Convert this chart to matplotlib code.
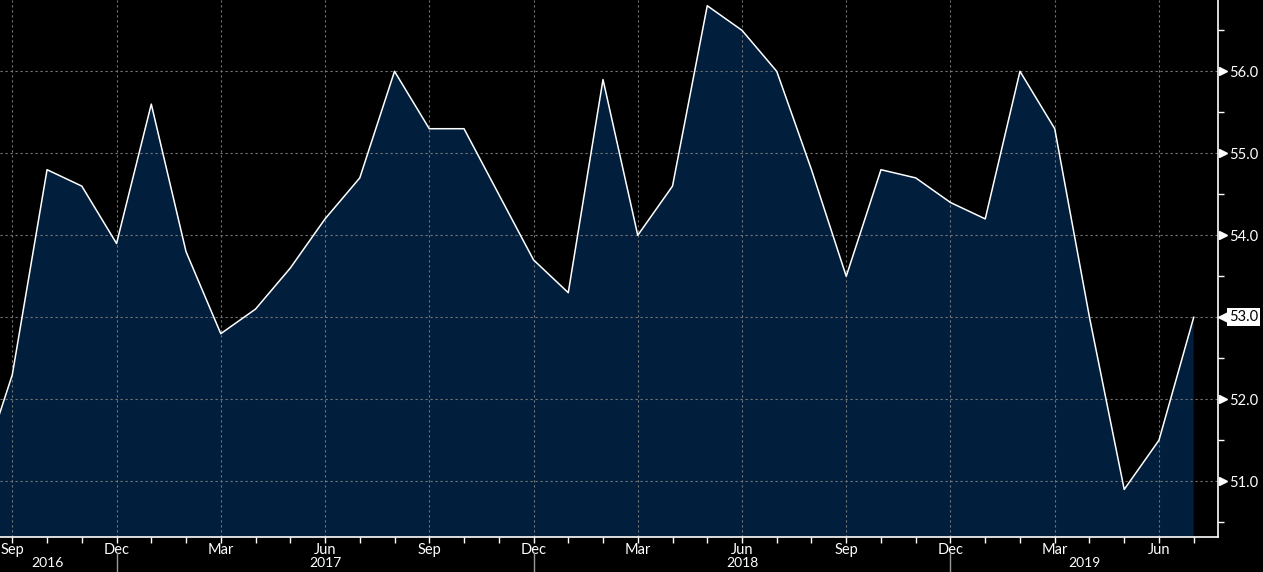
import matplotlib
matplotlib.use("Agg")
import matplotlib.pyplot as plt
import matplotlib.transforms as mtransforms
import numpy as np

plt.rcParams["font.family"] = ["Lato", "DejaVu Sans"]

# ---- data (monthly, Aug 2016 .. Jul 2019) ----
first_year, first_month = 2016, 8
values = [51.0, 52.3, 54.8, 54.6, 53.9,
          55.6, 53.8, 52.8, 53.1, 53.6, 54.2, 54.7, 56.0, 55.3, 55.3, 54.5, 53.7,
          53.3, 55.9, 54.0, 54.6, 56.8, 56.5, 56.0, 54.8, 53.5, 54.8, 54.7, 54.4,
          54.2, 56.0, 55.3, 53.0, 50.9, 51.5, 53.0]
month_labels = {9: "Sep", 12: "Dec", 3: "Mar", 6: "Jun"}
year_labels = ["2016", "2017", "2018", "2019"]
y_ticks = [51.0, 52.0, 53.0, 54.0, 55.0, 56.0]

n = len(values)
x = np.arange(n)  # month index, 0 = Aug 2016
months = [((first_month - 1 + i) % 12) + 1 for i in range(n + 1)]

FILL = "#011e3c"
GRID = "#767676"

fig = plt.figure(figsize=(12.63, 5.72), dpi=100, facecolor="black")
ax = fig.add_axes([0.0, 0.0612, 0.9644, 0.9388])
ax.set_facecolor("black")

ymin, ymax = 50.32, 56.87
ax.fill_between(x, values, ymin - 5, color=FILL, lw=0, zorder=1)
ax.plot(x, values, color="white", lw=1.1, zorder=4)

# ticks
all_x = np.arange(n + 1)
major = [(xx, month_labels[m]) for xx, m in zip(all_x, months) if m in month_labels]
ax.set_xticks([m[0] for m in major])
ax.set_xticklabels([m[1] for m in major])
ax.set_xticks(all_x, minor=True)
ax.tick_params(axis="x", which="both", direction="out", length=4, width=1,
               color="white", labelcolor="white", labelsize=10.5, pad=0.6)

ax.yaxis.tick_right()
ax.set_yticks(y_ticks)
ax.set_yticklabels([f"{v:.1f}" for v in y_ticks])
ax.set_yticks(np.arange(50.5, 57.0, 1.0), minor=True)
ax.tick_params(axis="y", which="major", length=0, pad=8, labelcolor="white", labelsize=10.5)
ax.tick_params(axis="y", which="minor", direction="out", length=4, width=1, color="white")
ax.tick_params(axis="y", which="both", left=False, labelleft=False)

# limits (after ticks, so they are not expanded)
x_left, x_right = 1 - 0.354, n - 1 + 0.70
ax.set_xlim(x_left, x_right)
ax.set_ylim(ymin, ymax)

# triangles for major y ticks
ytr = ax.get_yaxis_transform()
tri_y = [v for v in y_ticks if abs(v - values[-1]) > 1e-9]
ax.plot([1.0] * len(tri_y), tri_y, ls="none", marker=">", ms=6, color="white",
        transform=ytr + mtransforms.ScaledTranslation(4.5 / 100, 0, fig.dpi_scale_trans),
        clip_on=False, zorder=6)

# last-value tag
ax.plot([1.0], [values[-1]], ls="none", marker="<", ms=8, color="white",
        transform=ytr + mtransforms.ScaledTranslation(5.5 / 100, 0, fig.dpi_scale_trans),
        clip_on=False, zorder=7)
ax.annotate(f"{values[-1]:.1f}", xy=(1.0, values[-1]), xycoords=ytr,
            xytext=(8.0, 0), textcoords="offset points", ha="left", va="center",
            color="black", fontsize=10.5, zorder=8, annotation_clip=False,
            bbox=dict(boxstyle="square,pad=0.15", facecolor="white", edgecolor="none"))

# grid (drawn above the fill)
for v in y_ticks:
    ax.axhline(v, color=GRID, lw=0.8, ls=(0, (2, 2.5)), zorder=3)
for m in major:
    ax.axvline(m[0], color=GRID, lw=0.8, ls=(0, (2, 2.5)), zorder=3)

# spines
for s in ["top", "left"]:
    ax.spines[s].set_visible(False)
for s in ["bottom", "right"]:
    ax.spines[s].set_color("white")
    ax.spines[s].set_linewidth(1.2)
    ax.spines[s].set_zorder(5)

# year labels and separators
xtr = ax.get_xaxis_transform()
dec_x = [xx for xx, m in zip(all_x, months) if m == 12]
bounds = [x[0]] + dec_x + [x_right]
for i, yl in enumerate(year_labels):
    cx = (bounds[i] + bounds[i + 1]) / 2
    ax.text(cx, -0.0485, yl, transform=xtr, ha="center", va="center",
            color="white", fontsize=10, clip_on=False)
for dx in dec_x:
    ax.plot([dx, dx], [-0.030, -0.07], transform=xtr, color="#9a9a9a",
            lw=1.0, clip_on=False)

ax.set_xlim(x_left, x_right)
fig.savefig("out.png", dpi=100, facecolor="black")
